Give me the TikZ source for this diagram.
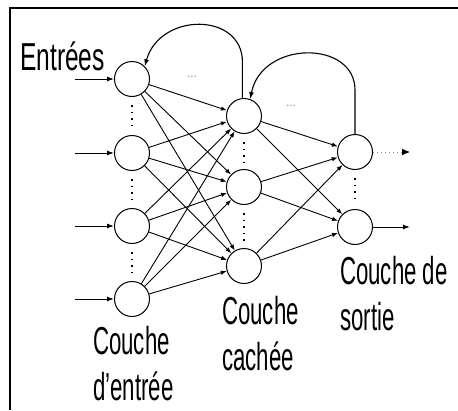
\documentclass[tikz,border=0pt]{standalone}
\usepackage{fontspec}
\setmainfont{Liberation Sans}
\usetikzlibrary{arrows.meta,positioning}
\tikzset{
  frameline/.style={black, line width=2.2pt},
  neuron/.style={circle, draw=black, line width=1pt, minimum size=35pt, inner sep=0pt},
  link/.style={black, line width=0.9pt, -{Latex[length=6pt,width=4.5pt]}},
  inlink/.style={black, line width=1pt, -{Latex[length=7pt,width=5pt]}},
  faintlink/.style={black!45, line width=1pt, dash pattern=on 1pt off 3pt, -{Latex[length=8pt,width=7pt,color=black]}},
  gapdots/.style={black, line width=1.6pt, dash pattern=on 1.6pt off 5pt, shorten <=8pt, shorten >=6pt},
  loopline/.style={black, line width=1.1pt, -{Latex[length=7pt,width=5pt]}},
  layerlabel/.style={anchor=base west, inner sep=0pt, align=left, font=\fontsize{39}{46}\selectfont},
  elide/.style={black!45, inner sep=0pt, font=\large}
}
\newcommand{\narrow}[2][0.57]{\scalebox{#1}[1]{#2}}

\begin{document}
\begin{tikzpicture}[x=1pt,y=-1pt]
  \useasboundingbox (0,0) rectangle (458,410);
  \draw[frameline] (10,410) -- (10,8) -- (458,8);
  % couches
  \foreach \i/\yy in {1/79,2/153,3/226,4/299}{
    \node[neuron] (in\i) at (132,\yy) {};
    \coordinate (src\i) at (75,\yy);
    \draw[inlink] (src\i) -- (in\i);
  }
  \foreach \j/\yy in {1/116,2/187,3/266}
    \node[neuron] (hid\j) at (244,\yy) {};
  \foreach \k/\yy in {1/152,2/227}
    \node[neuron] (out\k) at (355,\yy) {};
  % connexions
  \foreach \i in {1,...,4}
    \foreach \j in {1,2,3}
      \draw[link] (in\i) -- (hid\j);
  \foreach \j in {1,2,3}
    \foreach \k in {1,2}
      \draw[link] (hid\j) -- (out\k);
  % sorties
  \coordinate (dst1) at (410,152);
  \coordinate (dst2) at (410,227);
  \draw[faintlink] (out1) -- (dst1);
  \draw[inlink] (out2) -- (dst2);
  % points de suspension
  \foreach \a/\b in {in1/in2,in2/in3,in3/in4,hid1/hid2,hid2/hid3,out1/out2}
    \draw[gapdots] (\a.south) -- (\b.north);
  % retours
  \draw[loopline] (out1.north) -- ++(0,-44) .. controls (355,40) and (262,40) .. (hid1.70);
  \draw[loopline] (hid1.95) -- ++(0,-36) .. controls (242.5,12) and (160,12) .. (in1.north east);
  \node[elide] (dotsin) at (192,77) {...};
  \node[elide] (dotshid) at (291,106) {...};
  % textes
  \node[layerlabel] (lblent) at (20,70) {\narrow[0.63]{Entrées}};
  \node[layerlabel] (lblin) at (93,400) {\narrow{Couche}\\\narrow{d'entrée}};
  \node[layerlabel] (lblhid) at (222,370) {\narrow{Couche}\\\narrow{cachée}};
  \node[layerlabel] (lblout) at (340,330) {\narrow{Couche de}\\\narrow{sortie}};
\end{tikzpicture}
\end{document}
